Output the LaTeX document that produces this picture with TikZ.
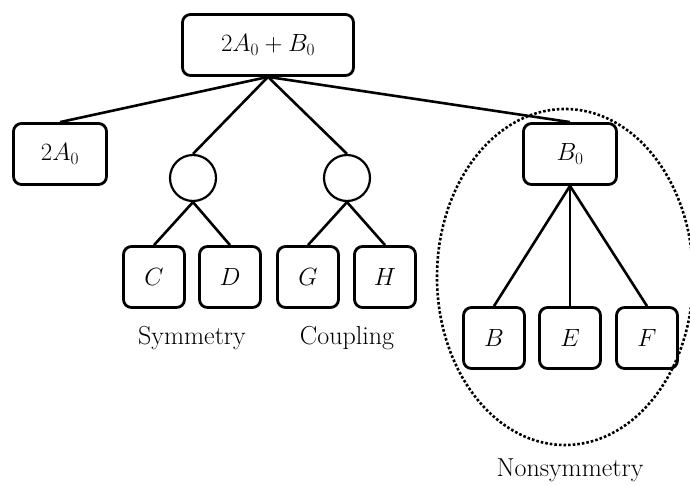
\documentclass[tikz,border=0pt]{standalone}
\usetikzlibrary{positioning}
\begin{document}
\begin{tikzpicture}[
  box/.style={draw,line width=2.8pt,rounded corners=8pt,minimum height=61pt,inner sep=0pt,font=\fontsize{26}{30}\selectfont},
  joint/.style={draw,circle,line width=2.2pt,minimum size=46pt,inner sep=0pt},
  link/.style={line width=2.6pt},
  lbl/.style={font=\fontsize{26}{30}\selectfont}
]
\useasboundingbox (0pt,0pt) rectangle (690pt,-485pt);
\node[box,minimum width=171pt] (root) at (268pt,-45pt) {$2A_0+B_0$};
\node[box,minimum width=93pt] (a0) at (60pt,-154pt) {$2A_0$};
\node[box,minimum width=93pt] (b0) at (570pt,-154pt) {$B_0$};
\node[joint] (sym) at (193pt,-178pt) {};
\node[joint] (cpl) at (347pt,-178pt) {};
\node[box,minimum width=61pt] (c) at (154pt,-277pt) {$C$};
\node[box,minimum width=61pt] (d) at (230pt,-277pt) {$D$};
\node[box,minimum width=61pt] (g) at (308pt,-277pt) {$G$};
\node[box,minimum width=61pt] (h) at (385pt,-277pt) {$H$};
\node[box,minimum width=61pt] (b) at (494pt,-338pt) {$B$};
\node[box,minimum width=61pt] (e) at (570pt,-338pt) {$E$};
\node[box,minimum width=61pt] (f) at (647pt,-338pt) {$F$};
\node[lbl] (symlbl) at (192pt,-338pt) {Symmetry};
\node[lbl] (cpllbl) at (347pt,-338pt) {Coupling};
\node[lbl] (nsymlbl) at (570pt,-470pt) {Nonsymmetry};
% dotted group
\draw[line width=2.6pt,dotted] (565pt,-277pt) ellipse (128pt and 168pt);
% tree
\draw[link] (root.south) -- (a0.north);
\draw[link] (root.south) -- (sym.north);
\draw[link] (root.south) -- (cpl.north);
\draw[link] (root.south) -- (b0.north);
\draw[link] (sym.south) -- (c.north);
\draw[link] (sym.south) -- (d.north);
\draw[link] (cpl.south) -- (g.north);
\draw[link] (cpl.south) -- (h.north);
\draw[link] (b0.south) -- (b.north);
\draw[link] (b0.south) -- (e.north);
\draw[link] (b0.south) -- (f.north);
\end{tikzpicture}
\end{document}
